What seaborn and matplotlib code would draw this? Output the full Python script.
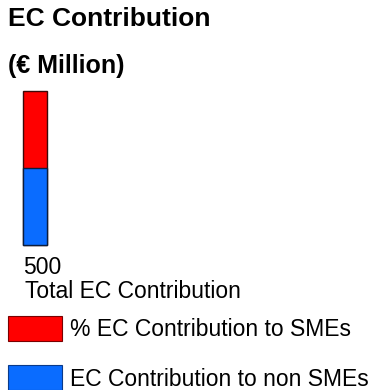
import matplotlib
matplotlib.use("Agg")
import matplotlib.pyplot as plt
import seaborn as sns
import pandas as pd
from matplotlib.patches import Patch

# Data
category = ["Total EC Contribution"]
sme_contrib = [250]        # % EC Contribution to SMEs (red, top)
non_sme_contrib = [250]    # EC Contribution to non SMEs (blue, bottom)
series_labels = ["% EC Contribution to SMEs", "EC Contribution to non SMEs"]
title = "EC Contribution"
subtitle = "(€ Million)"

total = [a + b for a, b in zip(sme_contrib, non_sme_contrib)]

sns.set_style("white")
plt.rcParams["font.family"] = ["Liberation Sans", "DejaVu Sans"]
plt.rcParams["text.color"] = "black"

RED = "#ff0000"
BLUE = "#0a6cff"

W, H = 376, 390
fig = plt.figure(figsize=(W / 100, H / 100), dpi=100)

# axes: bar spans x 23-47 px, y 91-245 px
ax = fig.add_axes([11 / W, (H - 245) / H, 48 / W, 154 / H])

df = pd.DataFrame({"cat": category, "total": total, "non_sme": non_sme_contrib})
sns.barplot(data=df, x="cat", y="total", color=RED, width=1.0, ax=ax,
            edgecolor="#3b0a0a", linewidth=1.0, saturation=1)
sns.barplot(data=df, x="cat", y="non_sme", color=BLUE, width=1.0, ax=ax,
            edgecolor="#0b1d3d", linewidth=1.0, saturation=1)
for p in ax.patches:
    p.set_clip_on(False)
ax.set_xlim(-1, 1)
ax.set_ylim(0, max(total))
ax.axis("off")

fig.text(8 / W, 1 - 19 / H, title, fontsize=19, fontweight="bold",
         ha="left", va="center", color="black")
fig.text(8 / W, 1 - 66 / H, subtitle, fontsize=18, fontweight="bold",
         ha="left", va="center", color="black")
fig.text(23 / W, 1 - 267 / H, f"{total[0]}", fontsize=16.5,
         ha="left", va="center", color="black")
fig.text(25 / W, 1 - 291 / H, category[0], fontsize=16.5,
         ha="left", va="center", color="black")

handles = [Patch(facecolor=RED, edgecolor="#7a0000", linewidth=0.8),
           Patch(facecolor=BLUE, edgecolor="#0a3a8a", linewidth=0.8)]
fs = 16.5
px = fs * 100 / 72
fig.legend(handles, series_labels, loc="upper left",
           bbox_to_anchor=(8 / W, 1 - 316 / H), frameon=False,
           fontsize=fs, borderpad=0, borderaxespad=0,
           handlelength=54 / px, handleheight=30 / px,
           handletextpad=8 / px, labelspacing=1.05, labelcolor="black")

fig.savefig("out.png", dpi=100)
